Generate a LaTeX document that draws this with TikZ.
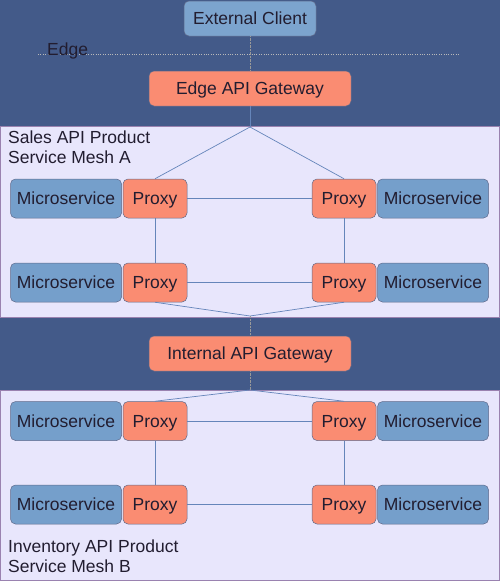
\documentclass[tikz,border=0pt]{standalone}
\usepackage{fontspec}
\setmainfont{Liberation Sans}
\usetikzlibrary{calc}

\definecolor{edgeblue}{HTML}{435A89}
\definecolor{meshbg}{HTML}{E8E6FC}
\definecolor{meshrim}{HTML}{9A82B0}
\definecolor{svcblue}{HTML}{759FCB}
\definecolor{proxysalmon}{HTML}{FA8C72}
\definecolor{rimgray}{HTML}{5F6A8C}
\definecolor{linkblue}{HTML}{6585BA}
\definecolor{inktext}{HTML}{221D30}

\begin{document}
\begin{tikzpicture}[x=1pt,y=-1pt,
  every node/.style={font=\fontsize{17.5}{20}\selectfont, text=inktext, inner sep=0pt},
  box/.style={draw=rimgray, line width=0.5pt, rounded corners=5pt, text height=14.25pt, text depth=2pt},
  msbox/.style={box, fill=svcblue, minimum width=111pt, minimum height=39pt},
  proxybox/.style={box, fill=proxysalmon, minimum width=64pt, minimum height=39pt},
  gwbox/.style={box, fill=proxysalmon, minimum width=202pt, minimum height=35pt},
  link/.style={draw=linkblue, line width=0.7pt}]
  \useasboundingbox (0,0) rectangle (500,581);
  \fill[edgeblue] (0,0) rectangle (500,581);
  % mesh panels
  \draw[fill=meshbg, draw=meshrim, line width=1pt] (0.5,126) rectangle (499.5,317);
  \draw[fill=meshbg, draw=meshrim, line width=1pt] (0.5,390) rectangle (499.5,580.5);
  % edge zone
  \draw[dotted, draw=gray!55, line width=0.4pt] (38,54) -- (460,54);
  \node[anchor=base west] (edgelbl) at (47,55) {Edge};
  \node[box, fill=svcblue!95!white, minimum width=132pt, minimum height=35pt] (client) at (250,18.5) {External Client};
  \node[gwbox] (edgegw) at (250,88.5) {Edge API Gateway};
  \node[gwbox] (intgw) at (250,353.5) {Internal API Gateway};
  % mesh labels
  \node[anchor=north west, align=left] (meshAlbl) at (8,130.5) {Sales API Product\\Service Mesh A};
  \node[anchor=north west, align=left] (meshBlbl) at (8,539.5) {Inventory API Product\\Service Mesh B};
  % mesh A
  \node[msbox] (mA1l) at (66,198.5) {Microservice};
  \node[proxybox] (pA1l) at (155,198.5) {Proxy};
  \node[proxybox] (pA1r) at (344,198.5) {Proxy};
  \node[msbox] (mA1r) at (433,198.5) {Microservice};
  \node[msbox] (mA2l) at (66,282.5) {Microservice};
  \node[proxybox] (pA2l) at (155,282.5) {Proxy};
  \node[proxybox] (pA2r) at (344,282.5) {Proxy};
  \node[msbox] (mA2r) at (433,282.5) {Microservice};
  % mesh B
  \node[msbox] (mB1l) at (66,421) {Microservice};
  \node[proxybox] (pB1l) at (155,421) {Proxy};
  \node[proxybox] (pB1r) at (344,421) {Proxy};
  \node[msbox] (mB1r) at (433,421) {Microservice};
  \node[msbox] (mB2l) at (66,504.5) {Microservice};
  \node[proxybox] (pB2l) at (155,504.5) {Proxy};
  \node[proxybox] (pB2r) at (344,504.5) {Proxy};
  \node[msbox] (mB2r) at (433,504.5) {Microservice};
  % hubs
  \coordinate (hubA) at (250,127);
  \coordinate (hubAB) at (250,316);
  \coordinate (hubB) at (250,390);
  % links
  \draw[densely dotted, draw=gray!80] (client) -- (edgegw);
  \draw[link] (edgegw) -- (hubA);
  \draw[link] (hubA) -- (pA1l.north);
  \draw[link] (hubA) -- (pA1r.north);
  \draw[link] (pA1l) -- (pA1r);
  \draw[link] (pA2l) -- (pA2r);
  \draw[link] (pA1l) -- (pA2l);
  \draw[link] (pA1r) -- (pA2r);
  \draw[link] (pA2l.south) -- (hubAB);
  \draw[link] (pA2r.south) -- (hubAB);
  \draw[densely dotted, draw=gray!80] (hubAB) -- (intgw);
  \draw[densely dotted, draw=gray!80] (intgw) -- (hubB);
  \draw[link] (hubB) -- (pB1l.north);
  \draw[link] (hubB) -- (pB1r.north);
  \draw[link] (pB1l) -- (pB1r);
  \draw[link] (pB2l) -- (pB2r);
  \draw[link] (pB1l) -- (pB2l);
  \draw[link] (pB1r) -- (pB2r);
\end{tikzpicture}
\end{document}
